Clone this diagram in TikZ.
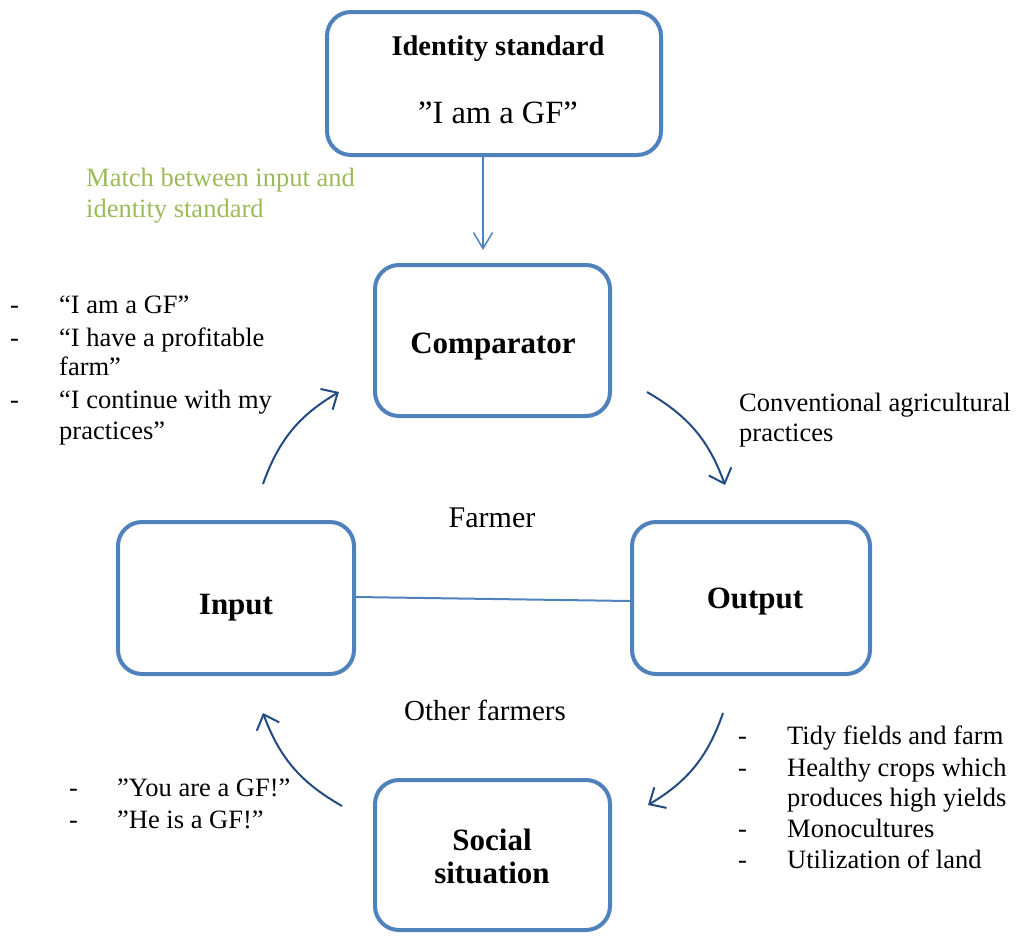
\documentclass[tikz,border=0pt]{standalone}
\usepackage{fontspec}
\setmainfont{Liberation Serif}
\usetikzlibrary{arrows.meta}
\definecolor{boxblue}{RGB}{79,129,189}
\definecolor{arrowblue}{RGB}{36,74,130}
\definecolor{matchgreen}{RGB}{155,187,89}
\tikzset{
  box/.style={draw=boxblue, line width=4pt, rounded corners=24pt, fill=white, inner sep=0pt},
  txt/.style={inner sep=0pt, anchor=base west, font=\fontsize{26.5}{31}\selectfont},
  ctxt/.style={inner sep=0pt, anchor=base, font=\fontsize{29}{33}\selectfont},
  ttl/.style={inner sep=0pt, anchor=base, font=\fontsize{31}{33}\selectfont\bfseries},
  cyc/.style={draw=arrowblue, line width=2pt, -{Straight Barb[length=13pt,width=24pt]}},
  vert/.style={draw=boxblue, line width=1.5pt, -{Straight Barb[length=16pt,width=19pt]}},
  link/.style={draw=boxblue, line width=2pt},
}
\begin{document}
\begin{tikzpicture}[x=1pt,y=1pt]
\useasboundingbox (0,0) rectangle (1017,-935);

% boxes
\node[box, minimum width=334pt, minimum height=143pt] (ident) at (494,-83.5) {};
\node[box, minimum width=235pt, minimum height=151pt] (comp) at (492.5,-340.5) {};
\node[box, minimum width=236pt, minimum height=152pt] (input) at (236,-598) {};
\node[box, minimum width=238pt, minimum height=152pt] (output) at (751,-598) {};
\node[box, minimum width=235pt, minimum height=150pt] (social) at (492.5,-855) {};

% box texts
\node[inner sep=0pt, anchor=base, font=\fontsize{28.5}{33}\selectfont\bfseries] (identT) at (498,-55) {Identity standard};
\node[inner sep=0pt, anchor=base, font=\fontsize{32.5}{36}\selectfont] (identQ) at (498,-123) {”I am a GF”};
\node[ttl] (compT) at (493,-353) {Comparator};
\node[ttl] (inputT) at (236,-614) {Input};
\node[ttl] (outputT) at (755,-608) {Output};
\node[ttl] (socialT1) at (492,-850) {Social};
\node[ttl] (socialT2) at (492,-883) {situation};

% middle labels
\node[inner sep=0pt, anchor=base, font=\fontsize{30}{33}\selectfont] (farmer) at (492,-527) {Farmer};
\node[ctxt] (others) at (485,-720) {Other farmers};

% connectors
\coordinate (vtop) at (483,-153);
\coordinate (vend) at (483,-250);
\draw[vert] (vtop) -- (vend);
\draw[link] ([yshift=1pt]input.east) -- ([yshift=-3pt]output.west);

\coordinate (a1s) at (263,-484); \coordinate (a1e) at (339,-392);
\coordinate (a2s) at (647,-392); \coordinate (a2e) at (725,-485);
\coordinate (a3s) at (723,-713); \coordinate (a3e) at (648,-805);
\coordinate (a4s) at (342,-806); \coordinate (a4e) at (263,-713);
\draw[cyc] (a1s) to[bend left=20] (a1e);
\draw[cyc] (a2s) to[bend left=20] (a2e);
\draw[cyc] (a3s) to[bend left=20] (a3e);
\draw[cyc] (a4s) to[bend left=20] (a4e);

% green note
\node[txt, text=matchgreen] (m1) at (86,-186) {Match between input and};
\node[txt, text=matchgreen] (m2) at (86,-217) {identity standard};

% conventional
\node[txt] (c1) at (739,-411) {Conventional agricultural};
\node[txt] (c2) at (739,-441) {practices};

% left list
\node[txt] (ld1) at (10,-313) {-};
\node[txt] (l1) at (59,-313) {“I am a GF”};
\node[txt] (ld2) at (10,-346) {-};
\node[txt] (l2) at (59,-346) {“I have a profitable};
\node[txt] (l2b) at (59,-375) {farm”};
\node[txt] (ld3) at (10,-408) {-};
\node[txt] (l3) at (59,-408) {“I continue with my};
\node[txt] (l3b) at (59,-439) {practices”};

% right list
\node[txt] (rd1) at (738,-744) {-};
\node[txt] (r1) at (787,-744) {Tidy fields and farm};
\node[txt] (rd2) at (738,-776) {-};
\node[txt] (r2) at (787,-776) {Healthy crops which};
\node[txt] (r2b) at (787,-806) {produces high yields};
\node[txt] (rd3) at (738,-837) {-};
\node[txt] (r3) at (787,-837) {Monocultures};
\node[txt] (rd4) at (738,-868) {-};
\node[txt] (r4) at (787,-868) {Utilization of land};

% bottom-left list
\node[txt] (bd1) at (69,-796) {-};
\node[txt] (b1) at (117,-796) {”You are a GF!”};
\node[txt] (bd2) at (69,-828) {-};
\node[txt] (b2) at (117,-828) {”He is a GF!”};
\end{tikzpicture}
\end{document}
